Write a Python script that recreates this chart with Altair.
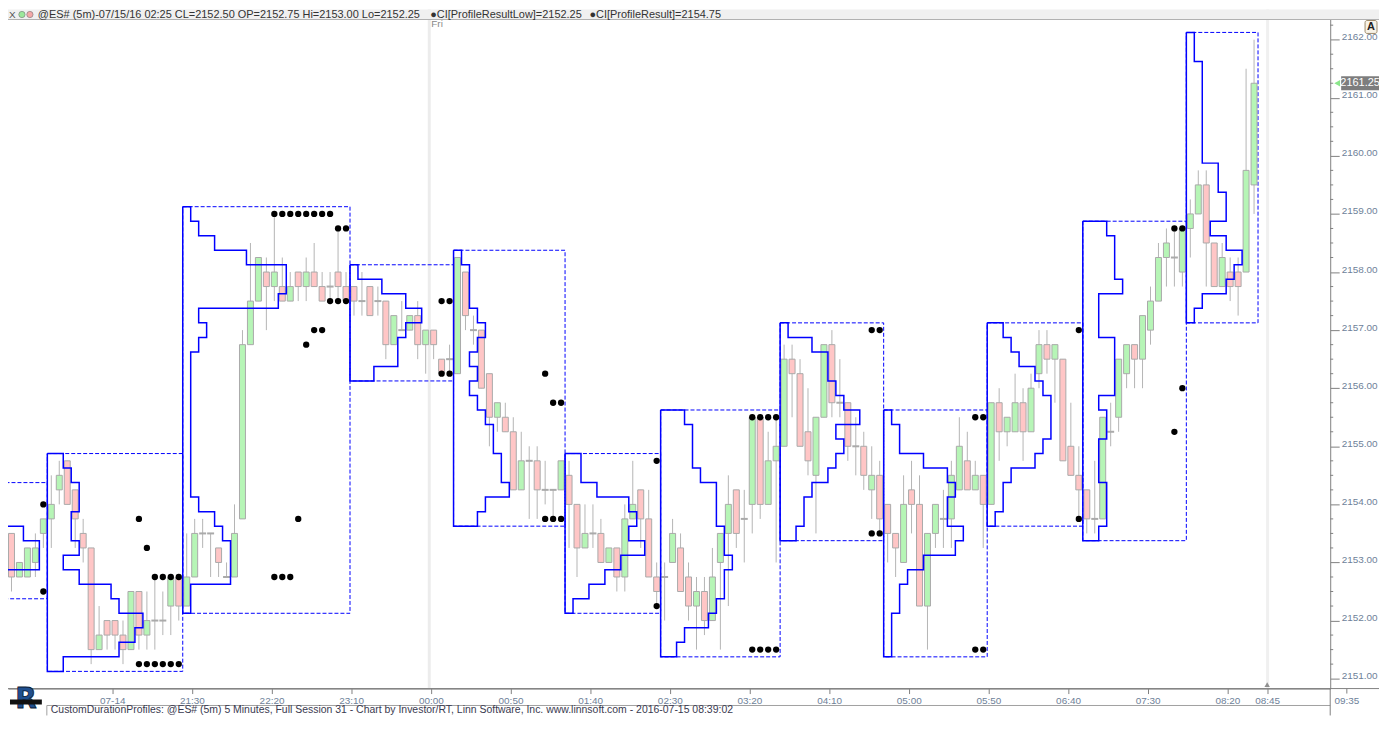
import altair as alt
import pandas as pd

# ------------------------------------------------------------------ data
# 5-minute bars, index 0 = 19:35 (07-14) ... index 157 = 08:40
opens = [2153.0, 2153.5, 2152.75, 2152.75, 2153.0, 2153.5, 2153.75, 2154.25, 2154.75, 2154.25,
         2153.5, 2153.25, 2151.5, 2152.0, 2152.0, 2151.75, 2151.5, 2152.5, 2151.75, 2152.0,
         2152.0, 2152.25, 2152.75, 2152.25, 2152.75, 2153.5, 2153.5, 2153.25, 2152.75, 2152.75,
         2153.75, 2156.75, 2157.5, 2158.0, 2157.75, 2157.75, 2157.5, 2158.0, 2157.75, 2158.0,
         2157.75, 2157.75, 2158.0, 2157.75, 2157.75, 2157.5, 2157.75, 2157.5, 2157.5, 2156.75,
         2157.0, 2157.0, 2157.25, 2156.75, 2157.0, 2156.5, 2156.5, 2156.25, 2158.0, 2157.0,
         2157.0, 2156.25, 2155.5, 2155.5, 2155.25, 2154.25, 2154.75, 2154.75, 2154.25, 2154.25,
         2154.25, 2154.5, 2154.0, 2153.25, 2153.5, 2153.5, 2153.0, 2153.25, 2152.75, 2153.75,
         2154.25, 2153.75, 2152.75, 2152.75, 2153.0, 2153.25, 2152.75, 2152.25, 2152.5, 2152.0,
         2153.0, 2153.5, 2154.25, 2153.75, 2154.0, 2155.5, 2154.0, 2154.75, 2155.0, 2156.5,
         2156.25, 2155.25, 2154.5, 2155.5, 2156.75, 2155.75, 2155.75, 2155.0, 2155.0, 2154.25,
         2154.5, 2154.0, 2153.5, 2153.0, 2154.25, 2154.0, 2152.25, 2153.5, 2153.75, 2153.75,
         2154.25, 2154.75, 2154.25, 2154.5, 2154.0, 2155.75, 2155.25, 2155.25, 2155.75, 2155.25,
         2156.25, 2156.75, 2156.5, 2156.5, 2155.0, 2154.5, 2154.25, 2153.75, 2153.75, 2155.25,
         2155.5, 2156.25, 2156.75, 2156.5, 2157.0, 2157.5, 2158.25, 2158.25, 2158.0, 2158.75,
         2159.0, 2159.5, 2158.5, 2157.75, 2158.0, 2158.0, 2158.0, 2159.5]
highs = [2154.0, 2153.5, 2153.0, 2153.25, 2153.5, 2153.75, 2154.5, 2154.75, 2154.75, 2154.25,
         2153.75, 2153.25, 2152.25, 2152.0, 2152.0, 2152.0, 2152.5, 2152.5, 2152.5, 2152.75,
         2152.5, 2152.75, 2152.75, 2153.5, 2153.75, 2153.75, 2153.5, 2153.25, 2153.0, 2154.0,
         2157.0, 2158.5, 2158.25, 2158.25, 2159.0, 2158.25, 2158.0, 2158.0, 2158.25, 2158.5,
         2158.0, 2158.0, 2158.75, 2158.0, 2157.75, 2158.0, 2157.75, 2157.75, 2157.5, 2157.25,
         2157.5, 2157.25, 2157.5, 2157.0, 2157.0, 2156.5, 2156.75, 2158.25, 2158.0, 2157.25,
         2157.0, 2156.25, 2155.75, 2155.75, 2155.5, 2155.25, 2155.0, 2155.0, 2154.75, 2154.25,
         2154.75, 2154.75, 2154.0, 2154.0, 2154.0, 2153.75, 2153.25, 2153.25, 2154.0, 2154.75,
         2154.25, 2154.25, 2153.0, 2153.0, 2153.75, 2153.5, 2153.0, 2152.75, 2152.75, 2153.25,
         2153.5, 2154.5, 2154.25, 2154.25, 2155.5, 2155.5, 2155.25, 2155.5, 2156.75, 2156.75,
         2156.5, 2156.0, 2155.5, 2156.75, 2157.0, 2156.5, 2155.75, 2155.5, 2155.25, 2155.0,
         2154.75, 2154.0, 2153.5, 2154.5, 2154.75, 2154.5, 2153.5, 2154.0, 2154.25, 2154.75,
         2155.5, 2155.25, 2154.75, 2154.5, 2155.75, 2156.0, 2155.5, 2156.25, 2156.0, 2156.25,
         2157.0, 2157.0, 2156.75, 2156.5, 2155.75, 2155.0, 2154.25, 2154.75, 2155.5, 2155.75,
         2156.5, 2156.75, 2156.75, 2157.25, 2157.75, 2158.5, 2158.75, 2158.75, 2158.75, 2159.25,
         2159.75, 2159.75, 2158.5, 2158.5, 2158.25, 2158.25, 2161.5, 2162.0]
lows = [2153.0, 2152.5, 2152.75, 2152.75, 2152.75, 2153.25, 2153.25, 2154.0, 2154.0, 2153.25,
        2153.0, 2151.25, 2151.5, 2151.5, 2151.5, 2151.25, 2151.5, 2151.5, 2151.5, 2151.5,
        2151.75, 2151.75, 2152.0, 2152.25, 2152.75, 2153.25, 2152.75, 2152.75, 2152.75, 2152.75,
        2153.75, 2156.75, 2157.5, 2157.0, 2157.5, 2157.5, 2157.5, 2157.5, 2157.5, 2157.75,
        2157.5, 2157.5, 2157.5, 2157.5, 2157.25, 2157.25, 2157.25, 2157.25, 2156.5, 2156.75,
        2157.0, 2157.0, 2156.5, 2156.25, 2156.5, 2156.25, 2156.25, 2156.25, 2157.0, 2156.75,
        2156.0, 2155.0, 2155.25, 2155.25, 2154.25, 2154.25, 2153.75, 2153.75, 2154.0, 2153.75,
        2154.25, 2153.25, 2152.75, 2153.25, 2153.25, 2153.0, 2153.0, 2152.5, 2152.5, 2153.75,
        2153.25, 2152.75, 2152.25, 2152.0, 2153.0, 2152.5, 2152.0, 2151.5, 2151.75, 2152.0,
        2151.5, 2152.25, 2153.25, 2153.0, 2153.5, 2153.75, 2154.0, 2153.0, 2155.0, 2155.5,
        2155.0, 2154.5, 2153.5, 2155.5, 2155.5, 2155.5, 2154.75, 2154.5, 2154.25, 2153.75,
        2153.5, 2153.0, 2152.75, 2153.0, 2153.5, 2152.25, 2151.5, 2153.25, 2153.25, 2153.25,
        2154.25, 2154.25, 2154.25, 2153.25, 2154.0, 2154.75, 2155.0, 2155.25, 2154.75, 2155.25,
        2156.0, 2156.25, 2155.75, 2154.75, 2154.5, 2153.75, 2153.5, 2153.5, 2153.75, 2155.0,
        2155.25, 2156.0, 2156.0, 2156.0, 2156.75, 2157.5, 2157.75, 2157.75, 2157.75, 2158.25,
        2159.0, 2157.75, 2157.75, 2157.75, 2157.5, 2157.25, 2158.0, 2159.0]
closes = [2153.5, 2152.75, 2153.0, 2153.25, 2153.25, 2153.75, 2154.0, 2154.5, 2154.0, 2153.75,
          2153.25, 2151.5, 2151.75, 2151.75, 2151.75, 2151.5, 2152.5, 2151.75, 2152.0, 2152.0,
          2152.0, 2152.75, 2152.25, 2152.75, 2153.5, 2153.5, 2153.5, 2153.0, 2152.75, 2153.5,
          2156.75, 2157.5, 2158.25, 2157.75, 2158.0, 2157.5, 2157.75, 2157.75, 2158.0, 2157.75,
          2157.5, 2157.75, 2157.75, 2157.5, 2157.5, 2157.5, 2157.25, 2157.5, 2156.75, 2157.25,
          2157.0, 2157.25, 2156.75, 2157.0, 2156.75, 2156.25, 2156.5, 2158.25, 2157.25, 2157.0,
          2156.0, 2155.5, 2155.75, 2155.25, 2154.25, 2154.75, 2154.75, 2154.25, 2154.25, 2154.25,
          2154.75, 2154.0, 2153.25, 2153.5, 2153.5, 2153.0, 2153.25, 2152.75, 2153.75, 2154.0,
          2153.75, 2152.75, 2152.5, 2152.75, 2153.5, 2152.5, 2152.25, 2152.5, 2152.0, 2152.75,
          2153.5, 2154.0, 2153.5, 2153.75, 2155.5, 2154.0, 2154.75, 2155.0, 2156.5, 2156.25,
          2155.0, 2154.75, 2155.5, 2156.75, 2155.75, 2155.75, 2155.0, 2155.0, 2154.5, 2154.5,
          2153.75, 2153.5, 2153.25, 2154.0, 2154.0, 2152.25, 2153.5, 2154.0, 2153.75, 2154.5,
          2155.0, 2154.25, 2154.5, 2154.0, 2155.75, 2155.25, 2155.5, 2155.75, 2155.25, 2156.0,
          2156.75, 2156.5, 2156.75, 2154.75, 2154.5, 2154.25, 2153.75, 2153.75, 2155.5, 2155.25,
          2156.5, 2156.75, 2156.5, 2157.25, 2157.5, 2158.25, 2158.5, 2158.25, 2158.75, 2159.0,
          2159.5, 2158.5, 2157.75, 2158.25, 2157.75, 2157.75, 2159.75, 2161.25]

# custom-duration profile sessions (first / last bar index)
box_starts = [6, 23, 44, 57, 71, 83, 98, 111, 124, 136, 149]
box_ends = [22, 43, 56, 70, 82, 97, 110, 123, 135, 148, 157]
# the first session began before the visible window: its profile as read
first_box_start = -9
first_box_end = 5
first_box_levels = [2154.25, 2154.0, 2153.75, 2153.5, 2153.25, 2153.0, 2152.75, 2152.5]
first_box_counts = [2, 5, 8, 12, 14, 14, 9, 4]

# CI[ProfileResult] / CI[ProfileResultLow] dots
dot_bars = [5, 17, 18, 19, 20, 21, 22, 34, 35, 36, 37, 38, 39, 40, 41, 42, 43, 55, 56,
            68, 69, 70, 82, 94, 95, 96, 97, 109, 110, 122, 123, 135, 147, 148]
dot_result = [2154.0, 2153.75, 2153.25, 2152.75, 2152.75, 2152.75, 2152.75,
              2159.0, 2159.0, 2159.0, 2159.0, 2159.0, 2159.0, 2159.0, 2159.0, 2158.75, 2158.75,
              2157.5, 2157.5, 2156.25, 2155.75, 2155.75, 2154.75,
              2155.5, 2155.5, 2155.5, 2155.5, 2157.0, 2157.0, 2155.5, 2155.5, 2157.0,
              2158.75, 2158.75]
dot_result_low = [2152.5, 2151.25, 2151.25, 2151.25, 2151.25, 2151.25, 2151.25,
                  2152.75, 2152.75, 2152.75, 2153.75, 2156.75, 2157.0, 2157.0, 2157.5, 2157.5, 2157.5,
                  2156.25, 2156.25, 2153.75, 2153.75, 2153.75, 2152.25,
                  2151.5, 2151.5, 2151.5, 2151.5, 2153.5, 2153.5, 2151.5, 2151.5, 2153.75,
                  2155.25, 2156.0]

# time axis
tick_bars = [13, 23, 33, 43, 53, 63, 73, 83, 93, 103, 113, 123, 133, 143, 153, 158]
tick_labels = ["07-14", "21:30", "22:20", "23:10", "00:00", "00:50", "01:40", "02:30",
               "03:20", "04:10", "05:00", "05:50", "06:40", "07:30", "08:20", "08:45"]
extra_tick_bar = 168
extra_tick_label = "09:35"
day_break_bar = 53.45
now_bar = 158.7
price_ticks = [2151, 2152, 2153, 2154, 2155, 2156, 2157, 2158, 2159, 2160, 2161, 2162]

cursor_bar = 82
cursor_time = "07/15/16 02:25"
symbol = "@ES# (5m)"
footer_text = ("CustomDurationProfiles: @ES# (5m) 5 Minutes, Full Session 31 - Chart by "
               "Investor/RT, Linn Software, Inc. www.linnsoft.com - 2016-07-15 08:39:02")
logo_letter = "R"

# ------------------------------------------------------------------ style
W, H = 1328, 682
PAD_R, PAD_B = 49, 27
FONT = "Liberation Sans"
BLUE = "#0000ff"
GREEN = "#b6f5b6"
RED = "#ffc6c6"
BODY_STROKE = "#a9a9a9"
WICK = "#b4b4b4"
AXIS = "#808080"
LABEL = "#6e7f99"
TEXT = "#333333"

xs = alt.Scale(domain=[0.5625, 166.5625], nice=False, zero=False, padding=0)
ys = alt.Scale(domain=[2150.829, 2162.519], nice=False, zero=False, padding=0)

tick_pos = [b + 0.65 for b in tick_bars]
label_expr = ("[" + ",".join("'%s'" % s for s in tick_labels) + "][indexof(["
              + ",".join(repr(p) for p in tick_pos) + "], datum.value)]")

xax = alt.Axis(values=tick_pos, labelExpr=label_expr, title=None, grid=False,
               tickSize=5, labelPadding=2, labelFlush=False, labelOverlap=False,
               domainColor=AXIS, tickColor=AXIS, labelColor=LABEL, labelFont=FONT,
               labelFontSize=10)
yax = alt.Axis(orient="right", values=price_ticks, format=".2f", title=None, grid=False,
               tickSize=9, labelPadding=2, labelAlign="left", labelBaseline="alphabetic",
               labelFlush=False, labelOverlap=False, domainColor=AXIS, tickColor=AXIS,
               labelColor=LABEL, labelFont=FONT, labelFontSize=10)


def X(f):
    return alt.X(f, type="quantitative", scale=xs, axis=xax)


def Y(f):
    return alt.Y(f, type="quantitative", scale=ys, axis=yax)


# ------------------------------------------------------------------ tables
bars = pd.DataFrame({"i": list(range(len(opens))), "O": opens, "H": highs, "L": lows, "C": closes})
bars["dir"] = ["up" if c >= o else "down" for o, c in zip(opens, closes)]
bodies = bars[bars["O"] != bars["C"]]
dojis = bars[bars["O"] == bars["C"]]

prof_rows = []
box_rows = []


def add_profile(bid, start, end, levels, counts):
    left = start - 0.5
    top = levels[0] + 0.125
    bottom = levels[-1] - 0.125
    box_rows.append({"box": bid, "l": left, "r": end + 0.5, "t": top, "b": bottom})
    pts = [(left, top)]
    for p, c in zip(levels, counts):
        pts.append((left + c, p + 0.125))
        pts.append((left + c, p - 0.125))
    pts.append((left, bottom))
    pts.append((left, top))
    for k, (u, p) in enumerate(pts):
        prof_rows.append({"box": bid, "k": k, "u": u, "p": p})


add_profile(0, first_box_start, first_box_end, first_box_levels, first_box_counts)
for n, (s, e) in enumerate(zip(box_starts, box_ends), start=1):
    hq = round(max(highs[s:e + 1]) * 4)
    lq = round(min(lows[s:e + 1]) * 4)
    levels, counts = [], []
    for q in range(hq, lq - 1, -1):
        cnt = sum(1 for j in range(s, e + 1) if round(lows[j] * 4) <= q <= round(highs[j] * 4))
        levels.append(q / 4)
        counts.append(cnt)
    add_profile(n, s, e, levels, counts)

prof = pd.DataFrame(prof_rows)
boxes = pd.DataFrame(box_rows)

dots = pd.DataFrame({"i": dot_bars + dot_bars, "p": dot_result + dot_result_low})

minor = pd.DataFrame({"p": [2151 + 0.25 * k for k in range(1, 46) if k % 4 != 0]})

one = alt.Data(values=[{}])

# ------------------------------------------------------------------ layers
layers = []

# session separators
layers.append(alt.Chart(one).mark_rule(color="#ececec", strokeWidth=3).encode(
    x=alt.datum(day_break_bar), y=alt.value(0), y2=alt.value(H)))
layers.append(alt.Chart(one).mark_rule(color="#f0f0f0", strokeWidth=3).encode(
    x=alt.datum(now_bar), y=alt.value(0), y2=alt.value(H)))
layers.append(alt.Chart(one).mark_text(text="Fri", align="left", baseline="middle", dx=2,
                                       font=FONT, fontSize=10, color="#888888").encode(
    x=alt.datum(day_break_bar), y=alt.value(15)))

# dashed profile boxes
layers.append(alt.Chart(boxes).mark_rect(fillOpacity=0, stroke=BLUE, strokeWidth=1,
                                         strokeDash=[4, 2], clip=True).encode(
    x=X("l"), x2="r", y=Y("t"), y2="b"))

# candles
layers.append(alt.Chart(bars).mark_rule(color=WICK, strokeWidth=1).encode(
    x=X("i"), y=Y("L"), y2="H"))
layers.append(alt.Chart(bodies).mark_bar(size=6, stroke=BODY_STROKE, strokeWidth=1).encode(
    x=X("i"), y=Y("O"), y2="C",
    color=alt.Color("dir:N", scale=alt.Scale(domain=["up", "down"], range=[GREEN, RED]),
                    legend=None)))
layers.append(alt.Chart(dojis).mark_tick(orient="horizontal", size=7, thickness=2,
                                         color="#aaaaaa", opacity=1).encode(
    x=X("i"), y=Y("O")))

# profile outlines
layers.append(alt.Chart(prof).mark_line(color=BLUE, strokeWidth=1.5, clip=True).encode(
    x=X("u"), y=Y("p"), detail="box:N", order="k:Q"))

# indicator dots
layers.append(alt.Chart(dots).mark_circle(size=40, color="#000000", opacity=1).encode(
    x=X("i"), y=Y("p")))

# minor price ticks
layers.append(alt.Chart(minor).mark_rule(color=AXIS, strokeWidth=1).encode(
    x=alt.value(W), x2=alt.value(W + 3), y=Y("p")))

# extra time tick beyond the plot and the "now" arrow
layers.append(alt.Chart(one).mark_rule(color=AXIS).encode(
    x=alt.datum(extra_tick_bar + 0.65), y=alt.value(H), y2=alt.value(H + 5)))
layers.append(alt.Chart(one).mark_text(text=extra_tick_label, baseline="top", font=FONT,
                                       fontSize=10, color=LABEL).encode(
    x=alt.datum(extra_tick_bar + 0.65), y=alt.value(H + 7)))
layers.append(alt.Chart(one).mark_point(shape="triangle-up", size=30, filled=True,
                                        color="#909090", opacity=1).encode(
    x=alt.datum(tick_bars[-1] + 0.65), y=alt.value(H - 4)))

# current price marker
last = closes[-1]
layers.append(alt.Chart(one).mark_point(shape="triangle-left", size=45, filled=True,
                                        color="#8be68b", opacity=1).encode(
    x=alt.value(W + 7), y=alt.datum(last)))
layers.append(alt.Chart(one).mark_point(shape="M-1,-0.37L1,-0.37L1,0.37L-1,0.37Z", size=1444,
                                        filled=True, color="#7d7d7d", opacity=1).encode(
    x=alt.value(W + 30), y=alt.datum(last)))
layers.append(alt.Chart(one).mark_text(text="%.2f" % last, align="center", baseline="middle",
                                       font=FONT, fontSize=11, color="#ffffff").encode(
    x=alt.value(W + 30), y=alt.datum(last)))

# "A" button
layers.append(alt.Chart(one).mark_rect(fill="#f7f2e6", stroke="#9c8a6a", cornerRadius=2).encode(
    x=alt.value(W + 35), x2=alt.value(W + 47), y=alt.value(11), y2=alt.value(24)))
layers.append(alt.Chart(one).mark_text(text="A", align="center", baseline="middle", font=FONT,
                                       fontSize=11, fontWeight="bold", color="#222222").encode(
    x=alt.value(W + 41), y=alt.value(17.5)))

# header strip
o, h, l, c = opens[cursor_bar], highs[cursor_bar], lows[cursor_bar], closes[cursor_bar]
k = dot_bars.index(cursor_bar)
header_main = "%s-%s CL=%.2f OP=%.2f Hi=%.2f Lo=%.2f" % (symbol, cursor_time, c, o, h, l)
header_low = "\u25CFCI[ProfileResultLow]=%.2f" % dot_result_low[k]
header_res = "\u25CFCI[ProfileResult]=%.2f" % dot_result[k]
layers.append(alt.Chart(one).mark_rect(fill="#f0f0f0").encode(
    x=alt.value(0), x2=alt.value(W + PAD_R), y=alt.value(0), y2=alt.value(10)))
layers.append(alt.Chart(one).mark_rule(color="#b0b0b0").encode(
    x=alt.value(0), x2=alt.value(W + PAD_R), y=alt.value(10)))
layers.append(alt.Chart(one).mark_text(text="X", align="left", baseline="middle", font=FONT,
                                       fontSize=10, color="#555555").encode(
    x=alt.value(1), y=alt.value(5)))
layers.append(alt.Chart(one).mark_point(shape="circle", size=40, filled=True, color="#9be89b",
                                        stroke="#777777", strokeWidth=0.6, opacity=1).encode(
    x=alt.value(14), y=alt.value(5)))
layers.append(alt.Chart(one).mark_point(shape="circle", size=40, filled=True, color="#f4a8a8",
                                        stroke="#777777", strokeWidth=0.6, opacity=1).encode(
    x=alt.value(22), y=alt.value(5)))
for txt, xpos in [(header_main, 30), (header_low, 424), (header_res, 584)]:
    layers.append(alt.Chart(one).mark_text(text=txt, align="left", baseline="middle", font=FONT,
                                           fontSize=11, color=TEXT).encode(
        x=alt.value(xpos), y=alt.value(5)))

# footer
layers.append(alt.Chart(one).mark_rule(color=AXIS).encode(
    x=alt.value(0), x2=alt.value(W + PAD_R), y=alt.value(H)))
layers.append(alt.Chart(one).mark_rule(color="#a0a0a0").encode(
    x=alt.value(39), x2=alt.value(W), y=alt.value(H + 17)))
layers.append(alt.Chart(one).mark_rule(color="#a0a0a0").encode(
    x=alt.value(39), y=alt.value(H + 17), y2=alt.value(H + PAD_B)))
layers.append(alt.Chart(one).mark_rule(color=AXIS).encode(
    x=alt.value(W), y=alt.value(H), y2=alt.value(H + PAD_B)))
layers.append(alt.Chart(one).mark_text(text=footer_text, align="left", baseline="middle",
                                       font=FONT, fontSize=10.5, color="#3a3a50").encode(
    x=alt.value(43), y=alt.value(H + 22)))

# logo: blue letter crossed by a black banner
layers.append(alt.Chart(one).mark_text(text=logo_letter, align="center", baseline="bottom",
                                       font="DejaVu Sans", fontSize=28, fontWeight="bold",
                                       color="#1f4f8f", stroke="#0a1a33",
                                       strokeWidth=0.8).encode(
    x=alt.value(18), y=alt.value(H + PAD_B - 1)))
layers.append(alt.Chart(one).mark_rect(fill="#111111").encode(
    x=alt.value(2), x2=alt.value(34), y=alt.value(H + 11), y2=alt.value(H + 16)))

chart = alt.layer(*layers).properties(
    width=W, height=H,
    padding={"left": 0, "top": 0, "right": PAD_R, "bottom": PAD_B},
    autosize=alt.AutoSizeParams(type="none"),
).configure_view(stroke=None)

chart.save("out.html", embed_options={"renderer": "svg", "actions": False})
